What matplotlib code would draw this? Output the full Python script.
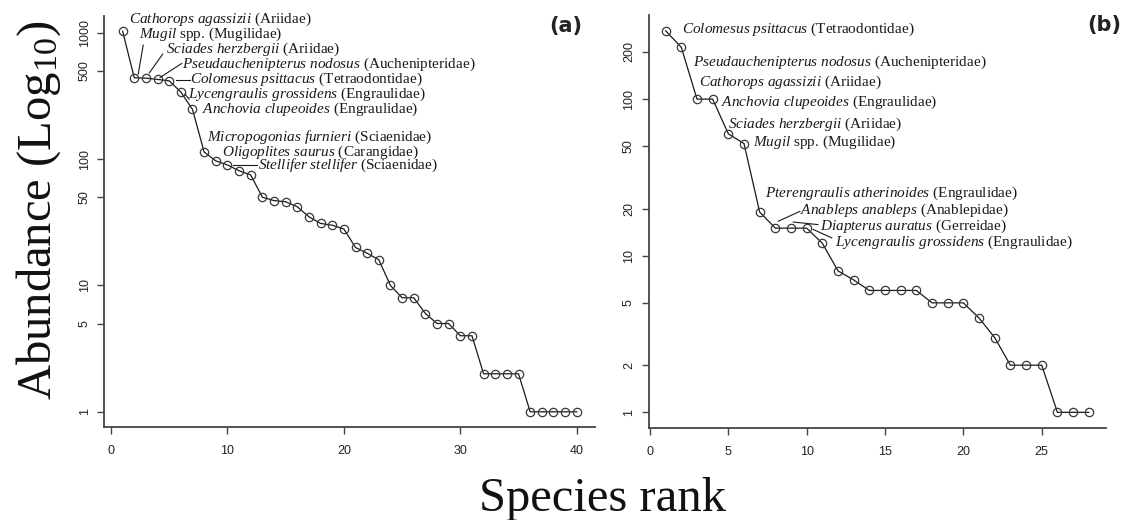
import numpy as np
import matplotlib
matplotlib.use("Agg")
import matplotlib.pyplot as plt

plt.rcParams['font.family'] = ['Liberation Serif', 'DejaVu Serif']
plt.rcParams['mathtext.fontset'] = 'custom'
plt.rcParams['mathtext.rm'] = 'Liberation Serif'
plt.rcParams['mathtext.it'] = 'Liberation Serif:italic'
plt.rcParams['mathtext.bf'] = 'Liberation Serif:bold'

# rank-abundance, panel (a)
abund_a = [1030, 441, 438, 428, 417, 340, 248, 114, 97, 90, 81, 75, 50, 47, 46,
           42, 35, 31, 30, 28, 20, 18, 16, 10, 8, 8, 6, 5, 5, 4, 4, 2, 2, 2, 2,
           1, 1, 1, 1, 1]
xticks_a = [0, 10, 20, 30, 40]
yticks_a = [1, 5, 10, 50, 100, 500, 1000]

# rank-abundance, panel (b)
abund_b = [273, 214, 100, 100, 60, 52, 19, 15, 15, 15, 12, 8, 7, 6, 6, 6, 6,
           5, 5, 5, 4, 3, 2, 2, 2, 1, 1, 1]
xticks_b = [0, 5, 10, 15, 20, 25]
yticks_b = [1, 2, 5, 10, 20, 50, 100, 200]

# species names (italic part, plain part)
names_a = [("Cathorops agassizii", "(Ariidae)"),
           ("Mugil", "spp. (Mugilidae)"),
           ("Sciades herzbergii", "(Ariidae)"),
           ("Pseudauchenipterus nodosus", "(Auchenipteridae)"),
           ("Colomesus psittacus", "(Tetraodontidae)"),
           ("Lycengraulis grossidens", "(Engraulidae)"),
           ("Anchovia clupeoides", "(Engraulidae)"),
           ("Micropogonias furnieri", "(Sciaenidae)"),
           ("Oligoplites saurus", "(Carangidae)"),
           ("Stellifer stellifer", "(Sciaenidae)")]
names_b = [("Colomesus psittacus", "(Tetraodontidae)"),
           ("Pseudauchenipterus nodosus", "(Auchenipteridae)"),
           ("Cathorops agassizii", "(Ariidae)"),
           ("Anchovia clupeoides", "(Engraulidae)"),
           ("Sciades herzbergii", "(Ariidae)"),
           ("Mugil", "spp. (Mugilidae)"),
           ("Pterengraulis atherinoides", "(Engraulidae)"),
           ("Anableps anableps", "(Anablepidae)"),
           ("Diapterus auratus", "(Gerreidae)"),
           ("Lycengraulis grossidens", "(Engraulidae)")]

# where each name sits (data coords) and its leader segment, if any
place_a = [((1.55, 1290), None),
           ((2.40, 980), ((2.34, 472), (2.77, 800))),
           ((4.72, 745), ((3.29, 481), (4.44, 679))),
           ((6.07, 566), ((4.21, 443), (6.07, 572))),
           ((6.78, 425), ((5.58, 421), (6.78, 421))),
           ((6.61, 325), ((6.35, 327), (6.72, 299))),
           ((7.79, 249), None),
           ((8.21, 149), None),
           ((9.50, 113), None),
           ((12.64, 89), ((10.5, 90), (12.5, 90)))]
place_b = [((2.02, 279), None),
           ((2.72, 172), None),
           ((3.15, 127), None),
           ((4.51, 95), None),
           ((5.00, 69), None),
           ((6.55, 53), None),
           ((7.34, 25.2), None),
           ((9.57, 19.6), ((8.19, 16.6), (9.57, 19.2))),
           ((10.85, 15.4), ((9.15, 16.4), (10.72, 15.8))),
           ((11.80, 12.1), ((10.42, 14.7), (11.6, 13.0)))]


def pad_range(lo, hi):
    d = 0.04 * (hi - lo)
    return lo - d, hi + d


def label_text(it, plain):
    return r"$\mathit{" + it.replace(" ", r"\ ") + "}$ " + plain


def draw_panel(ax, abund, xticks, yticks, names, place):
    rank = np.arange(1, len(abund) + 1)
    ax.plot(rank, abund, color='#1a1a1a', lw=0.9, marker='o', ms=6,
            mfc='none', mec='#383838', mew=0.9)
    ax.set_yscale('log')
    ax.set_xlim(*pad_range(1, len(abund)))
    lo, hi = pad_range(0, np.log10(max(abund)))
    ax.set_ylim(10 ** lo, 10 ** hi)
    ax.set_xticks(xticks)
    ax.set_yticks(yticks)
    ax.set_yticklabels([str(v) for v in yticks])
    ax.yaxis.set_minor_locator(matplotlib.ticker.NullLocator())
    for s in ('top', 'right'):
        ax.spines[s].set_visible(False)
    for s in ('left', 'bottom'):
        ax.spines[s].set_color('#444444')
        ax.spines[s].set_linewidth(1.3)
    ax.tick_params(direction='out', length=5, width=1.0, color='#444444',
                   labelsize=9, labelcolor='#222222')
    ax.tick_params(axis='x', pad=8)
    ax.tick_params(axis='y', pad=5)
    for t in ax.get_xticklabels() + ax.get_yticklabels():
        t.set_family(['Liberation Sans', 'DejaVu Sans'])
    for t in ax.get_yticklabels():
        t.set_rotation(90)
        t.set_va('center')

    for (it, plain), (pos, seg) in zip(names, place):
        ax.text(pos[0], pos[1], label_text(it, plain), fontsize=11,
                ha='left', va='center', color='#1a1a1a')
        if seg is not None:
            (x0, y0), (x1, y1) = seg
            ax.plot([x0, x1], [y0, y1], color='#1a1a1a', lw=0.8)
    return ax


fig = plt.figure(figsize=(11.28, 5.2), dpi=100)
ax_a = fig.add_axes([0.0926, 0.1788, 0.4348, 0.7904])
ax_b = fig.add_axes([0.5751, 0.1777, 0.4051, 0.7925])

draw_panel(ax_a, abund_a, xticks_a, yticks_a, names_a, place_a)
draw_panel(ax_b, abund_b, xticks_b, yticks_b, names_b, place_b)

ax_a.text(0.941, 0.976, "(a)", transform=ax_a.transAxes, ha='center',
          va='center', fontsize=15, fontweight='bold', family='DejaVu Sans',
          color='#222222')
ax_b.text(0.997, 0.976, "(b)", transform=ax_b.transAxes, ha='center',
          va='center', fontsize=15, fontweight='bold', family='DejaVu Sans',
          color='#222222')

fig.text(0.034, 0.596, r"Abundance (Log$_{10}$)", rotation=90, ha='center',
         va='center', fontsize=35, color='#111111')
fig.text(0.534, 0.04, "Species rank", ha='center', va='center',
         fontsize=35, color='#111111')

fig.savefig("out.png", dpi=100)
